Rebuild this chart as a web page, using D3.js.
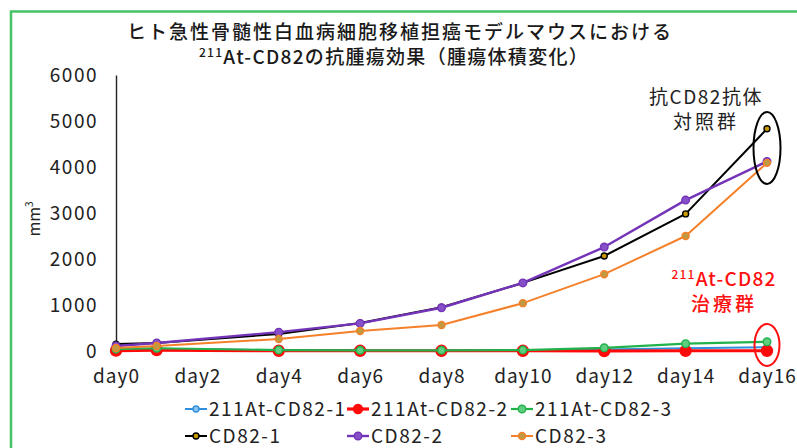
<!DOCTYPE html>
<html>
<head>
<meta charset="utf-8">
<script src="https://cdn.jsdelivr.net/npm/d3@7/dist/d3.min.js"></script>
<style>
  html, body { margin: 0; padding: 0; background: #fff; }
  svg { display: block; }
  text { font-family: "Noto Sans CJK JP", "Noto Sans", sans-serif; }
</style>
</head>
<body>
<svg id="chart" width="797" height="448"></svg>
<script>
// Measurement days and the labelled tick days
const days = [0, 1, 4, 6, 8, 10, 12, 14, 16];
const tickDays = [0, 2, 4, 6, 8, 10, 12, 14, 16];
const xTickLabels = ["day0", "day2", "day4", "day6", "day8", "day10", "day12", "day14", "day16"];
const yTicks = [0, 1000, 2000, 3000, 4000, 5000, 6000];

// Tumour volume (mm3) per mouse
const at1 = [40, 50, 15, 10, 10, 10, 30, 60, 80];
const at2 = [10, 20, 5, 5, 5, 5, 0, 5, 5];
const at3 = [40, 60, 20, 15, 15, 20, 70, 160, 200];
const cd1 = [150, 175, 370, 610, 950, 1480, 2065, 2980, 4830];
const cd2 = [110, 175, 410, 600, 940, 1480, 2260, 3280, 4120];
const cd3 = [65, 110, 260, 435, 565, 1040, 1670, 2500, 4090];

const seriesNames = ["211At-CD82-1", "211At-CD82-2", "211At-CD82-3", "CD82-1", "CD82-2", "CD82-3"];
const seriesValues = [at1, at2, at3, cd1, cd2, cd3];

const styles = [
  { line: "#2f8fdc", width: 2,   r: 3,   fill: "#8cc4f0", stroke: "#2f8fdc" },
  { line: "#ff0a0a", width: 3.2, r: 5.5, fill: "#ff0a0a", stroke: "#ff0a0a" },
  { line: "#22b24c", width: 2.2, r: 3.8, fill: "#5fcf7f", stroke: "#22b24c" },
  { line: "#000000", width: 2,   r: 3,   fill: "#c99a00", stroke: "#000000" },
  { line: "#7434b8", width: 2.4, r: 3.8, fill: "#8650c8", stroke: "#7434b8" },
  { line: "#f5802a", width: 2,   r: 3.5, fill: "#c09a40", stroke: "#f5802a" }
];

const svg = d3.select("#chart");

// outer frame
svg.append("rect")
  .attr("x", 11).attr("y", 11.5)
  .attr("width", 820).attr("height", 470)
  .attr("fill", "none")
  .attr("stroke", "#45c266")
  .attr("stroke-width", 2.5);

const x = d3.scaleLinear().domain([0, 16]).range([116, 767]);
const y = d3.scaleLinear().domain([0, 6000]).range([351, 75]);

// title
const title = svg.append("g").attr("fill", "#1a1a1a").attr("font-weight", 500);
title.append("text")
  .attr("x", 400).attr("y", 39)
  .attr("text-anchor", "middle")
  .attr("font-size", 19)
  .attr("letter-spacing", "2px")
  .text("ヒト急性骨髄性白血病細胞移植担癌モデルマウスにおける");
const t2 = title.append("text")
  .attr("x", 394).attr("y", 64)
  .attr("text-anchor", "middle")
  .attr("font-size", 19)
  .attr("letter-spacing", "1.3px");
t2.append("tspan").attr("font-size", 12).attr("dy", -7).text("211");
t2.append("tspan").attr("dy", 7).text("At-CD82の抗腫瘍効果（腫瘍体積変化）");

// y axis
const yAxis = d3.axisLeft(y).tickValues(yTicks).tickSize(0).tickPadding(18).tickFormat(d3.format("d"));
const yg = svg.append("g").attr("transform", "translate(116,0)").call(yAxis);
yg.select(".domain").attr("stroke", "#222").attr("stroke-width", 1.4);
yg.selectAll("text").attr("font-size", 19).attr("fill", "#222")
  .attr("letter-spacing", "1.5px")
  .attr("font-family", "'Noto Sans CJK JP', sans-serif");

// x axis labels (no visible axis line)
const xAxis = d3.axisBottom(x).tickValues(tickDays).tickSize(0).tickPadding(19)
  .tickFormat((d, i) => xTickLabels[i]);
const xg = svg.append("g").attr("transform", "translate(0,351)").call(xAxis);
xg.select(".domain").remove();
xg.selectAll("text").attr("font-size", 19).attr("fill", "#222")
  .attr("letter-spacing", "1px")
  .attr("font-family", "'Noto Sans CJK JP', sans-serif");

// y axis title
const yl = svg.append("text")
  .attr("transform", "translate(40,219) rotate(-90)")
  .attr("text-anchor", "middle")
  .attr("font-size", 16)
  .attr("fill", "#222");
yl.append("tspan").text("mm");
yl.append("tspan").attr("font-size", 10).attr("dy", -7).text("3");

// series lines and markers
const line = d3.line().x((d, i) => x(days[i])).y(d => y(d));
seriesValues.forEach((vals, k) => {
  const s = styles[k];
  const g = svg.append("g");
  g.append("path")
    .attr("d", line(vals))
    .attr("fill", "none")
    .attr("stroke", s.line)
    .attr("stroke-width", s.width)
    .attr("stroke-linejoin", "round");
  g.selectAll("circle").data(vals).join("circle")
    .attr("cx", (d, i) => x(days[i]))
    .attr("cy", d => y(d))
    .attr("r", s.r)
    .attr("fill", s.fill)
    .attr("stroke", s.stroke)
    .attr("stroke-width", 1.4);
});

// group annotations
svg.append("ellipse")
  .attr("cx", x(16)).attr("cy", 148).attr("rx", 13.5).attr("ry", 36)
  .attr("fill", "none").attr("stroke", "#000").attr("stroke-width", 2);
const ctrl = svg.append("g").attr("fill", "#222").attr("font-size", 19).attr("text-anchor", "middle");
ctrl.append("text").attr("x", 706).attr("y", 104).attr("letter-spacing", "1.5px").text("抗CD82抗体");
ctrl.append("text").attr("x", 706).attr("y", 129).attr("letter-spacing", "3px").text("対照群");

svg.append("ellipse")
  .attr("cx", x(16)).attr("cy", 345).attr("rx", 12.5).attr("ry", 21)
  .attr("fill", "none").attr("stroke", "#ff1010").attr("stroke-width", 2);
const tr = svg.append("g").attr("fill", "#ff1010").attr("font-size", 19).attr("font-weight", 500).attr("text-anchor", "middle");
const tr1 = tr.append("text").attr("x", 724).attr("y", 286).attr("letter-spacing", "1.2px");
tr1.append("tspan").attr("font-size", 12).attr("dy", -7).text("211");
tr1.append("tspan").attr("dy", 7).text("At-CD82");
tr.append("text").attr("x", 724).attr("y", 311).attr("letter-spacing", "3px").text("治療群");

// legend
const legendPos = [[185, 409], [347, 409], [511, 409], [185, 436], [347, 436], [511, 436]];
seriesNames.forEach((name, k) => {
  const s = styles[k];
  const [lx, ly] = legendPos[k];
  const g = svg.append("g").attr("transform", `translate(${lx},${ly})`);
  g.append("line").attr("x1", 0).attr("x2", 22).attr("y1", 0).attr("y2", 0)
    .attr("stroke", s.line).attr("stroke-width", s.width);
  g.append("circle").attr("cx", 11).attr("cy", 0).attr("r", Math.min(s.r, 4.5))
    .attr("fill", s.fill).attr("stroke", s.stroke).attr("stroke-width", 1.4);
  g.append("text").attr("x", 24).attr("y", 7)
    .attr("font-size", 19).attr("fill", "#222")
    .attr("letter-spacing", "1.5px")
    .text(name);
});
</script>
</body>
</html>
